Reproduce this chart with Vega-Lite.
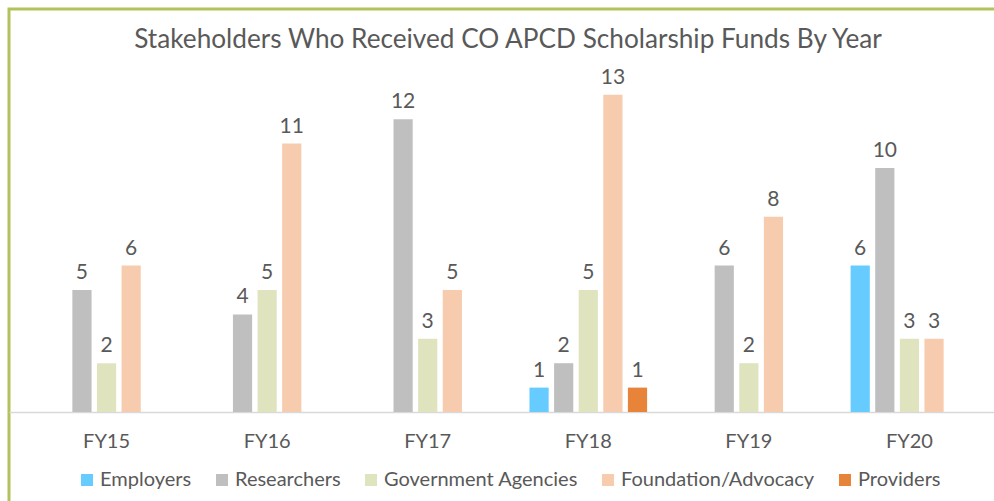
{
  "$schema": "https://vega.github.io/schema/vega-lite/v6.json",
  "autosize": {"type": "none"},
  "width": 998,
  "height": 510,
  "padding": {"left": 9, "top": 9, "right": -13, "bottom": -18},
  "background": "white",
  "config": {
    "font": "Lato",
    "view": {"stroke": "#b3c25a", "strokeWidth": 3}
  },
  "title": {
    "text": "Stakeholders Who Received CO APCD Scholarship Funds By Year",
    "fontSize": 26.2,
    "fontWeight": "normal",
    "color": "#595959",
    "font": "Lato",
    "anchor": "middle",
    "baseline": "alphabetic",
    "offset": -65
  },
  "data": {
    "values": [
      {"year": "FY15", "group": "Researchers", "count": 5},
      {"year": "FY15", "group": "Government Agencies", "count": 2},
      {"year": "FY15", "group": "Foundation/Advocacy", "count": 6},
      {"year": "FY16", "group": "Researchers", "count": 4},
      {"year": "FY16", "group": "Government Agencies", "count": 5},
      {"year": "FY16", "group": "Foundation/Advocacy", "count": 11},
      {"year": "FY17", "group": "Researchers", "count": 12},
      {"year": "FY17", "group": "Government Agencies", "count": 3},
      {"year": "FY17", "group": "Foundation/Advocacy", "count": 5},
      {"year": "FY18", "group": "Employers", "count": 1},
      {"year": "FY18", "group": "Researchers", "count": 2},
      {"year": "FY18", "group": "Government Agencies", "count": 5},
      {"year": "FY18", "group": "Foundation/Advocacy", "count": 13},
      {"year": "FY18", "group": "Providers", "count": 1},
      {"year": "FY19", "group": "Researchers", "count": 6},
      {"year": "FY19", "group": "Government Agencies", "count": 2},
      {"year": "FY19", "group": "Foundation/Advocacy", "count": 8},
      {"year": "FY20", "group": "Employers", "count": 6},
      {"year": "FY20", "group": "Researchers", "count": 10},
      {"year": "FY20", "group": "Government Agencies", "count": 3},
      {"year": "FY20", "group": "Foundation/Advocacy", "count": 3}
    ]
  },
  "encoding": {
    "x": {
      "field": "year",
      "type": "nominal",
      "sort": ["FY15", "FY16", "FY17", "FY18", "FY19", "FY20"],
      "scale": {"paddingInner": 0.2675, "paddingOuter": 0.2414},
      "axis": {
        "title": null,
        "orient": "bottom",
        "offset": -107,
        "ticks": false,
        "tickSize": 0,
        "domainColor": "#d9d9d9",
        "domainWidth": 1.5,
        "labelAngle": 0,
        "labelFont": "Lato",
        "labelFontSize": 20,
        "labelColor": "#595959",
        "labelBaseline": "alphabetic",
        "labelPadding": 35
      }
    },
    "xOffset": {
      "field": "group",
      "type": "nominal",
      "sort": ["Employers", "Researchers", "Government Agencies", "Foundation/Advocacy", "Providers"],
      "scale": {
        "domain": ["Employers", "Researchers", "Government Agencies", "Foundation/Advocacy", "Providers"],
        "paddingInner": 0.22,
        "paddingOuter": 0
      }
    },
    "y": {
      "field": "count",
      "type": "quantitative",
      "scale": {"domain": [-4.385, 16.516], "nice": false, "zero": false},
      "axis": null
    }
  },
  "layer": [
    {
      "mark": {"type": "bar"},
      "encoding": {
        "y2": {"datum": 0},
        "color": {
          "field": "group",
          "type": "nominal",
          "scale": {
            "domain": ["Employers", "Researchers", "Government Agencies", "Foundation/Advocacy", "Providers"],
            "range": ["#66ccff", "#bfbfbf", "#dfe4bf", "#f7cbae", "#e8833a"]
          },
          "legend": {
            "title": null,
            "orient": "none",
            "legendX": 68,
            "legendY": 461,
            "direction": "horizontal",
            "columns": 5,
            "columnPadding": 20,
            "padding": 0,
            "symbolType": "square",
            "symbolSize": 144,
            "symbolStrokeWidth": 0,
            "labelOffset": 3,
            "labelFont": "Lato",
            "labelFontSize": 20,
            "labelColor": "#595959",
            "labelLimit": 400
          }
        }
      }
    },
    {
      "mark": {
        "type": "text",
        "baseline": "alphabetic",
        "dy": -11,
        "fontSize": 21,
        "font": "Lato",
        "color": "#595959"
      },
      "encoding": {
        "text": {"field": "count", "type": "quantitative"}
      }
    }
  ]
}
